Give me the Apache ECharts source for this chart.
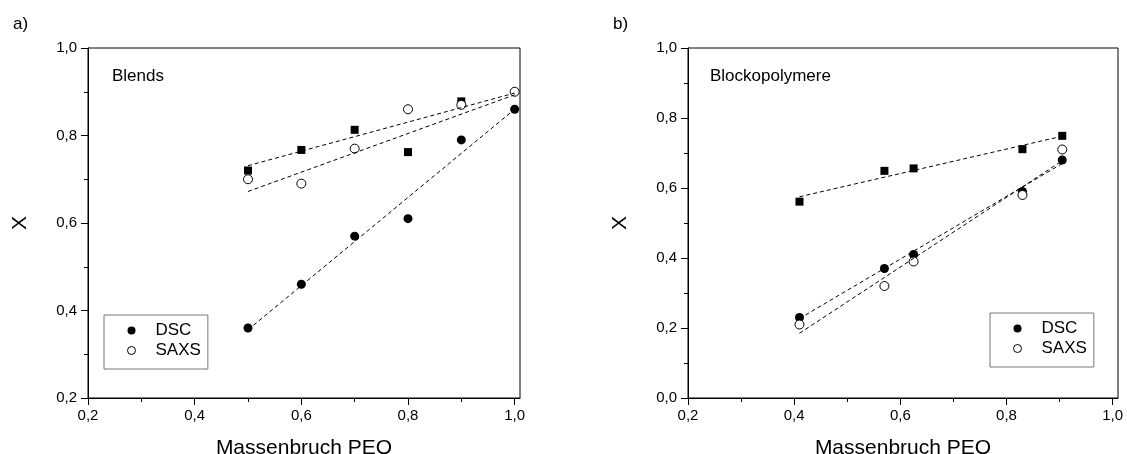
<!DOCTYPE html>
<html>
<head>
<meta charset="utf-8">
<script src="https://cdn.jsdelivr.net/npm/echarts@6/dist/echarts.min.js"></script>
<style>
  html, body { margin: 0; padding: 0; background: #fff; }
  #chart { width: 1127px; height: 454px; }
</style>
</head>
<body>
<div id="chart"></div>
<script>
// ---- a) Blends ----
const blendsX = [0.5, 0.6, 0.7, 0.8, 0.9, 1.0];
const blendsDsc = [0.36, 0.46, 0.57, 0.61, 0.79, 0.86];
const blendsSaxs = [0.70, 0.69, 0.77, 0.86, 0.87, 0.90];
const blendsSquareX = [0.5, 0.6, 0.7, 0.8, 0.9];
const blendsSquares = [0.72, 0.767, 0.813, 0.762, 0.878];
// fitted straight lines: [x, y] of both ends
const blendsFitSquares = [[0.5, 0.731], [1.0, 0.897]];
const blendsFitSaxs = [[0.5, 0.672], [1.0, 0.893]];
const blendsFitDsc = [[0.5, 0.356], [1.0, 0.860]];

// ---- b) Blockopolymere ----
const blockX = [0.41, 0.57, 0.625, 0.83, 0.905];
const blockDsc = [0.23, 0.37, 0.41, 0.59, 0.68];
const blockSaxs = [0.21, 0.32, 0.39, 0.58, 0.71];
const blockSquares = [0.561, 0.649, 0.656, 0.711, 0.749];
const blockFitSquares = [[0.41, 0.575], [0.905, 0.748]];
const blockFitDsc = [[0.41, 0.227], [0.905, 0.670]];
const blockFitSaxs = [[0.41, 0.185], [0.905, 0.678]];

// ---- axes ----
const xMajorTicks = [0.2, 0.4, 0.6, 0.8, 1.0];
const xMinorTicks = [0.3, 0.5, 0.7, 0.9];
const xMin = 0.2, xMax = 1.01;
const yRanges = [[0.2, 1.0], [0.0, 1.0]];

const FONT = "'Liberation Sans', Arial, sans-serif";
const fmt = v => v.toFixed(1).replace('.', ',');
const pairs = (xs, ys) => xs.map((x, i) => [x, ys[i]]);

const grids = [
  { left: 88, top: 48, width: 432, height: 350 },
  { left: 688, top: 48, width: 430, height: 350 }
].map(g => Object.assign(g, {
  show: true, borderColor: '#000', borderWidth: 1, backgroundColor: 'transparent',
  containLabel: false, outerBoundsMode: 'none'
}));

const xAxes = [];
const yAxes = [];
[0, 1].forEach(gi => {
  xAxes.push({
    type: 'value', gridIndex: gi, min: xMin, max: xMax, position: 'bottom',
    name: 'Massenbruch PEO', nameLocation: 'middle', nameGap: 40,
    nameTextStyle: { fontFamily: FONT, fontSize: 21, color: '#000' },
    axisLine: { show: true, onZero: false, lineStyle: { color: '#000', width: 1 } },
    axisTick: { show: true, inside: false, length: 7, customValues: xMajorTicks, lineStyle: { color: '#000' } },
    axisLabel: { show: true, customValues: xMajorTicks, formatter: fmt, margin: 10, fontFamily: FONT, fontSize: 15, color: '#000' },
    splitLine: { show: false }
  });
  xAxes.push({
    type: 'value', gridIndex: gi, min: xMin, max: xMax, position: 'bottom', offset: 0,
    axisLine: { show: false, onZero: false },
    axisTick: { show: true, inside: false, length: 4, customValues: xMinorTicks, lineStyle: { color: '#000' } },
    axisLabel: { show: false },
    splitLine: { show: false }
  });
  yAxes.push({
    type: 'value', gridIndex: gi, min: yRanges[gi][0], max: yRanges[gi][1], interval: 0.2,
    name: 'X', nameLocation: 'middle', nameGap: 57,
    nameTextStyle: { fontFamily: FONT, fontSize: 21, color: '#000' },
    axisLine: { show: true, onZero: false, lineStyle: { color: '#000', width: 1 } },
    axisTick: { show: true, inside: false, length: 7, lineStyle: { color: '#000' } },
    minorTick: { show: true, splitNumber: 2, length: 4, lineStyle: { color: '#000' } },
    axisLabel: { formatter: fmt, margin: 11, fontFamily: FONT, fontSize: 15, color: '#000' },
    splitLine: { show: false }
  });
});

function fitLine(data, gi) {
  return {
    type: 'line', name: 'fit', xAxisIndex: gi * 2, yAxisIndex: gi, data: data,
    symbol: 'none', silent: true,
    lineStyle: { color: '#000', width: 1, type: [4, 3] }
  };
}
function squares(data, gi) {
  return {
    type: 'scatter', name: 'Quadrate', xAxisIndex: gi * 2, yAxisIndex: gi, data: data,
    symbol: 'rect', symbolSize: 8, silent: true, itemStyle: { color: '#000', opacity: 1 }
  };
}
function dsc(data, gi) {
  return {
    type: 'scatter', name: 'DSC', xAxisIndex: gi * 2, yAxisIndex: gi, data: data,
    symbol: 'circle', symbolSize: 9, silent: true, itemStyle: { color: '#000', opacity: 1 }
  };
}
function saxs(data, gi) {
  return {
    type: 'scatter', name: 'SAXS', xAxisIndex: gi * 2, yAxisIndex: gi, data: data,
    symbol: 'circle', symbolSize: 9, silent: true,
    itemStyle: { color: '#fff', borderColor: '#000', borderWidth: 1, opacity: 1 }
  };
}

const series = [
  fitLine(blendsFitSquares, 0), fitLine(blendsFitSaxs, 0), fitLine(blendsFitDsc, 0),
  squares(pairs(blendsSquareX, blendsSquares), 0),
  dsc(pairs(blendsX, blendsDsc), 0),
  saxs(pairs(blendsX, blendsSaxs), 0),
  fitLine(blockFitSquares, 1), fitLine(blockFitDsc, 1), fitLine(blockFitSaxs, 1),
  squares(pairs(blockX, blockSquares), 1),
  dsc(pairs(blockX, blockDsc), 1),
  saxs(pairs(blockX, blockSaxs), 1)
];

const legendItems = [
  { name: 'DSC', icon: 'circle', itemStyle: { color: '#000', borderWidth: 0, opacity: 1 } },
  { name: 'SAXS', icon: 'circle', itemStyle: { color: '#fff', borderColor: '#000', borderWidth: 1, opacity: 1 } }
];
function legendAt(left, top) {
  return {
    left: left, top: top, orient: 'vertical', data: legendItems, selectedMode: false,
    itemWidth: 38, itemHeight: 8, itemGap: 3, symbolKeepAspect: true,
    padding: [7, 7, 10, 23],
    borderColor: '#777', borderWidth: 1, backgroundColor: '#fff',
    textStyle: { fontFamily: FONT, fontSize: 17, color: '#000' }
  };
}

const titles = [
  { text: 'a)', left: 13, top: 16 },
  { text: 'b)', left: 613, top: 16 },
  { text: 'Blends', left: 112, top: 68 },
  { text: 'Blockopolymere', left: 710, top: 68 }
].map(t => Object.assign(t, { padding: 0, textStyle: { fontFamily: FONT, fontSize: 17, fontWeight: 'normal', color: '#000' } }));

const chart = echarts.init(document.getElementById('chart'), null, { renderer: 'canvas' });
chart.setOption({
  animation: false,
  backgroundColor: '#fff',
  title: titles,
  grid: grids,
  xAxis: xAxes,
  yAxis: yAxes,
  legend: [legendAt(104, 315), legendAt(990, 313)],
  series: series
});
</script>
</body>
</html>
